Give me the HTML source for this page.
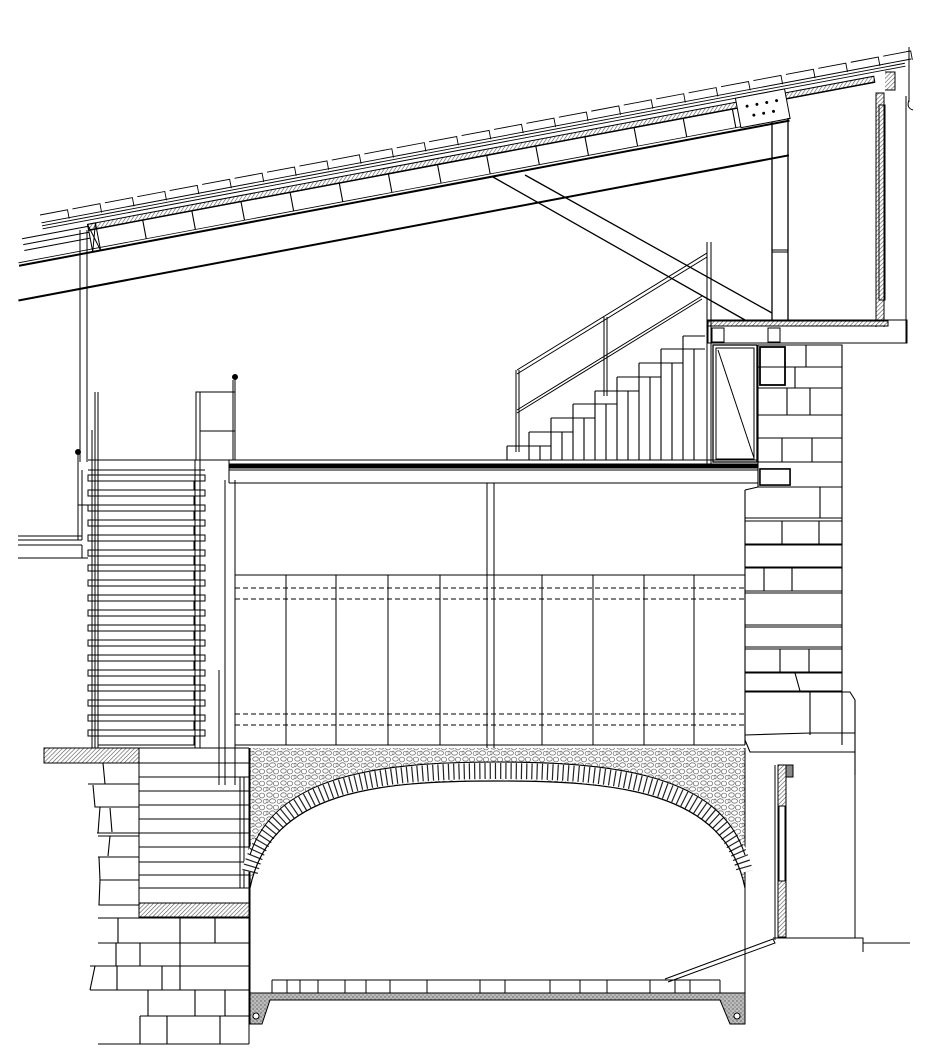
<!DOCTYPE html>
<html><head><meta charset="utf-8"><style>html,body{margin:0;padding:0;background:#fff}svg{display:block}</style></head>
<body>
<svg width="947" height="1054" viewBox="0 0 947 1054" xmlns="http://www.w3.org/2000/svg">
<defs>
<pattern id="hatch" width="3" height="3" patternUnits="userSpaceOnUse" patternTransform="rotate(45)">
<rect width="3" height="3" fill="#fff"/><line x1="0" y1="0" x2="0" y2="3" stroke="#555" stroke-width="1.2"/></pattern>
<pattern id="rub" width="14" height="12" patternUnits="userSpaceOnUse">
<rect width="14" height="12" fill="#fff"/>
<g fill="none" stroke="#777" stroke-width="0.8">
<ellipse cx="3.5" cy="3" rx="2.8" ry="2.2"/><ellipse cx="10" cy="3.5" rx="2.6" ry="2.4"/>
<ellipse cx="6.5" cy="9" rx="3" ry="2.2"/><ellipse cx="12.8" cy="9.5" rx="1.6" ry="2"/><ellipse cx="1" cy="9" rx="1.2" ry="1.8"/></g></pattern>
<pattern id="conc" width="4" height="4" patternUnits="userSpaceOnUse">
<rect width="4" height="4" fill="#bbb"/><circle cx="1" cy="1" r="0.7" fill="#555"/><circle cx="3" cy="3" r="0.6" fill="#666"/></pattern>
</defs>
<g fill="none" stroke="#000" stroke-width="1">

<!-- ROOF (rotated frame) -->
<g transform="translate(40,215) rotate(-10.67)">
  <g stroke-width="0.9">
  <path d="M0,8 L885,8"/>
  <path d="M0,0 h28 v9 M33,0 h28 v9 M66,0 h28 v9 M99,0 h28 v9 M132,0 h28 v9 M165,0 h28 v9 M198,0 h28 v9 M231,0 h28 v9 M264,0 h28 v9 M297,0 h28 v9 M330,0 h28 v9 M363,0 h28 v9 M396,0 h28 v9 M429,0 h28 v9 M462,0 h28 v9 M495,0 h28 v9 M528,0 h28 v9 M561,0 h28 v9 M594,0 h28 v9 M627,0 h28 v9 M660,0 h28 v9 M693,0 h28 v9 M726,0 h28 v9 M759,0 h28 v9 M792,0 h28 v9 M825,0 h28 v9 M858,0 h28 v9"/>
  <path d="M0,11 L878,11 M0,14 L878,14"/>
  </g>
  <rect x="45" y="18" width="800" height="6" fill="url(#hatch)"/>
  <path d="M45,24 L845,24" stroke-width="1.5"/>
  <path d="M-30,46 L754,46" stroke-width="2"/>
  <path d="M-30,43 L754,43" stroke-width="0.8"/>
  <path d="M-37,80 L747,80" stroke-width="2"/>
  <g stroke-width="1.1">
  <path d="M100,24v19 M150,24v19 M200,24v19 M250,24v19 M300,24v19 M350,24v19 M400,24v19 M450,24v19 M500,24v19 M550,24v19 M600,24v19 M650,24v19 M700,24v19"/>
  </g>
  <rect x="45" y="18" width="8" height="28"/>
  <path d="M45,18 L53,46 M53,18 L45,46"/>
  <rect x="705" y="14" width="50" height="30" fill="#fff"/>
  <g fill="#000"><circle cx="715" cy="24" r="1"/><circle cx="725" cy="24" r="1"/><circle cx="735" cy="24" r="1"/><circle cx="745" cy="24" r="1"/><circle cx="720" cy="34" r="1"/><circle cx="730" cy="34" r="1"/><circle cx="740" cy="34" r="1"/></g>
  <path d="M-22,20 L45,20 M-22,26 L45,26 M-22,32 L45,32"/>
</g>

<!-- diagonal strut -->
<path d="M493,177 L745,320 M525,175 L772,313" stroke-width="1.3"/>
<!-- vertical post -->
<path d="M772,122 V322 M788,118 V322" stroke-width="1.3"/>
<path d="M772,250 H788 M772,252 H788"/>
<!-- right wall -->
<rect x="876" y="93" width="8" height="230" fill="url(#hatch)"/>
<path d="M876,93 V327 M884,93 V327 M906,96 V343"/>
<rect x="879" y="105" width="6" height="195"/>
<path d="M909,47 V102 M909,100 q-3,8 4,10" />
<path d="M885,72 H895 V90 H885" fill="url(#hatch)"/>
<!-- right floor slab -->
<rect x="708" y="321" width="180" height="5" fill="url(#hatch)"/>
<path d="M708,320 H907 V343 H708 Z"/>
<rect x="712" y="328" width="12" height="14"/><rect x="768" y="328" width="12" height="14"/>
<!-- left roof post -->
<path d="M80,230 V462 M87,230 V462"/>

<!-- upper stair -->
<g stroke-width="1.1">
<path d="M507,446 h44 M529,432 h44 M551,418 h44 M573,404 h44 M595,391 h44 M617,377 h44 M639,363 h44 M661,349 h44 M683,336 h22"/>
<path d="M507,446V460 M529,432V460 M551,418V460 M573,404V460 M595,391V460 M617,377V460 M639,363V460 M661,349V460 M683,336V460"/>
<path d="M540,446V460 M562,432V460 M584,418V460 M606,404V460 M628,391V460 M650,377V460 M672,363V460 M694,349V460"/>
</g>
<path d="M517,370 L707,253 M517,374 L707,257" stroke-width="1"/>
<path d="M517,410 L702,296 M517,413 L702,299"/>
<path d="M516,370 V452 M519,370 V452 M604,317 V396 M607,317 V396"/>
<path d="M707,242 V465 M711,242 V465"/>
<!-- door -->
<rect x="713" y="345" width="44" height="117" stroke-width="1.3"/>
<rect x="716" y="348" width="38" height="111"/>
<path d="M718,350 L754,458"/>

<!-- upper floor slab -->
<path d="M229,460 H758" />
<rect x="229" y="464" width="529" height="4" fill="#000"/>
<path d="M229,470 H758 M229,483 H758 M229,460 V483"/>
<rect x="760" y="469" width="30" height="16" stroke-width="1.5"/>
<rect x="764" y="472" width="22" height="10"/>
<!-- column -->
<path d="M487,483 V748 M494,483 V748"/>
<!-- left wall members -->
<path d="M225,480 V785 M235,480 V785 M219,670 V785"/>

<!-- wall panels -->
<path d="M235,575 H745 M235,745 H745"/>
<path d="M286,575V745 M336,575V745 M388,575V745 M440,575V745 M542,575V745 M593,575V745 M644,575V745 M694,575V745"/>
<path d="M235,588 H745 M235,599 H745 M235,714 H745 M235,725 H745" stroke-dasharray="5,3"/>

<!-- left stair -->
<path d="M88,460 H205 M88,470 H205"/>
<g id="tr">
<rect x="88" y="475" width="117" height="6"/>
<rect x="98" y="481" width="96" height="9"/>
</g>
<use href="#tr" y="15"/><use href="#tr" y="30"/><use href="#tr" y="45"/><use href="#tr" y="60"/><use href="#tr" y="75"/><use href="#tr" y="90"/><use href="#tr" y="105"/><use href="#tr" y="120"/><use href="#tr" y="135"/><use href="#tr" y="150"/><use href="#tr" y="165"/><use href="#tr" y="180"/><use href="#tr" y="195"/><use href="#tr" y="210"/><use href="#tr" y="225"/><use href="#tr" y="240"/><use href="#tr" y="255"/>
<path d="M95,392 V748 M98,392 V748 M195,460 V748 M200,460 V748 M92,430 V748"/>
<rect x="196" y="392" width="39" height="68"/>
<path d="M200,431 H235 M200,392 V460"/>
<path d="M235,380 V460 M233,380 V460"/>
<circle cx="235" cy="377" r="2.5" fill="#000"/>
<circle cx="78" cy="452" r="2.5" fill="#000"/>
<path d="M78,455 V540 M82,470 V540 M78,505 H92"/>
<path d="M18,536 H82 M18,540 H82 M18,545 H82 M18,558 H88 M82,545 V558"/>

<!-- right stone wall -->
<g stroke-width="1.1">
<path d="M758,345 H842 V745 M758,345 V487"/>
<rect x="760" y="347" width="25" height="38" stroke-width="1.8"/>
<path d="M758,367 H842 M787,388 H842 M758,388 H787 M758,415 H842 M758,438 H842 M758,462 H842 M758,487 H842"/>
<path d="M806,345 V367 M795,367 V388 M787,388 V415 M810,388 V415 M782,438 V462 M812,438 V462"/>
<path d="M745,490 L758,487 M745,490 V745"/>
<path d="M745,518 H842 M745,521 H842 M745,544 H842 M745,545 H842 M745,567 H842 M745,568 H842 M745,591 H842 M745,593 H842 M745,625 H842 M745,627 H842 M745,647 H842 M745,649 H842 M745,672 H842 M745,673 H842 M745,691 H842"/>
<path d="M820,487 V518 M782,521 V544 M819,521 V544 M764,568 V591 M792,568 V591 M780,649 V672 M809,649 V672 M795,673 L800,691"/>
<path d="M745,692 H850 L855,700 V775 M810,692 V735 M745,735 L810,733 H855 M745,740 L750,752 H855"/>
<rect x="760" y="469" width="30" height="16" stroke-width="1.5" fill="#fff"/>
</g>
<!-- right lower -->
<rect x="778" y="765" width="8" height="172" fill="url(#hatch)"/>
<rect x="779" y="806" width="6" height="75" fill="#fff"/>
<path d="M786,765 H793 V777 H786 Z" fill="#888"/>
<path d="M775,765 V940 M855,745 V938 M773,938 H863 V952 M863,943 H910"/>
<path d="M665,979 L773,939 L775,943 L668,982"/>

<!-- cellar left -->
<rect x="44" y="748" width="95" height="15" fill="url(#hatch)"/>
<rect x="139" y="903" width="110" height="14" fill="url(#hatch)"/>
<path d="M139,748 H249 M139,748 V917 M249,748 V1044"/>
<path d="M139,763 H249 M139,777 H249 M139,791 H249 M139,805 H249 M139,819 H249 M139,833 H249 M139,847 H249 M139,862 H249 M139,875 H249 M139,888 H249"/>
<path d="M240,777 V888 M244,777 V888"/>
<g stroke-width="1.1">
<path d="M103,763 L105,784 M88,784 H139 M93,785 L95,807 H139 M100,807 L98,833 M97,833 H139 M110,808 L112,832 M98,836 H139 M110,836 L108,856 M98,857 H139 M99,857 L100,880 H139 M100,880 L99,905 H139"/>
<path d="M98,918 H249 M118,918 V943 M180,918 V943 M215,918 V943 M98,943 H249 M116,943 V966 M140,943 V966 M180,943 V966 M95,966 L90,990 M90,966 H249 M117,966 V990 M162,966 V990 M180,966 V990 M90,990 H249 M148,990 V1016 M195,990 V1016 M225,990 V1016 M140,1016 H249 M140,1016 V1044 M167,1016 V1044 M220,1016 V1044 M98,1044 H249"/>
</g>

<!-- arch & rubble -->
<path d="M250,748 H745 V888 C725,790 615,781 497,781 C380,781 270,790 250,888 Z" fill="url(#rub)" stroke="none"/>
<path d="M250,748 V1024 M745,748 V1024"/>
<path d="M250,872 C272,783 380,771 497,771 C615,771 723,783 745,872" stroke-width="17" stroke="#fff"/>
<path d="M250,872 C272,783 380,771 497,771 C615,771 723,783 745,872" stroke-width="16" stroke-dasharray="1.2,4" stroke="#222"/>
<path d="M250,855 C275,775 380,762 497,762 C615,762 720,775 745,855" stroke-width="1.1"/>
<path d="M250,888 C270,790 380,781 497,781 C615,781 725,790 745,888" stroke-width="1.2"/>

<!-- floor -->
<path d="M272,980 H720 M272,993 H720 M272,980 V993 M720,980 V993"/>
<path d="M287,980V993 M300,980V993 M318,980V993 M345,980V993 M366,980V993 M390,980V993 M427,980V993 M480,980V993 M505,980V993 M550,980V993 M580,980V993 M607,980V993 M650,980V993 M675,980V993 M690,980V993"/>
<path d="M250,993 H745 V1024 H730 L720,1000 H270 L262,1024 H250 Z" fill="url(#conc)"/>
<circle cx="256" cy="1016" r="3" fill="#fff"/><circle cx="737" cy="1016" r="3" fill="#fff"/>
</g>
</svg>
</body></html>
